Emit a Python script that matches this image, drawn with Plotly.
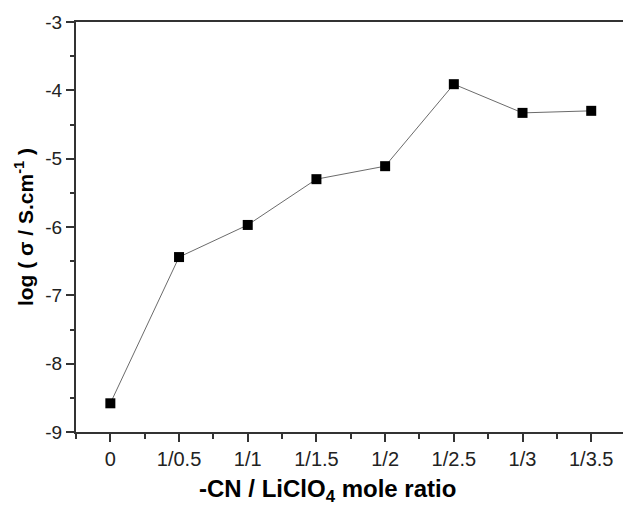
import plotly.graph_objects as go

categories = ["0", "1/0.5", "1/1", "1/1.5", "1/2", "1/2.5", "1/3", "1/3.5"]
log_sigma = [-8.58, -6.44, -5.97, -5.30, -5.11, -3.91, -4.33, -4.30]
x_pos = list(range(len(categories)))
y_ticks = [-9, -8, -7, -6, -5, -4, -3]
y_tick_labels = ["-9", "-8", "-7", "-6", "-5", "-4", "-3"]

fig = go.Figure()
fig.add_trace(go.Scatter(
    x=x_pos, y=log_sigma, mode="lines+markers",
    line=dict(color="#6b6b6b", width=1),
    marker=dict(symbol="square", size=10, color="black"),
    showlegend=False,
))

font_fam = "Liberation Sans, Arial, sans-serif"
# page body has an 8px default margin, so margins are offset to compensate
fig.update_layout(
    width=631, height=508,
    margin=dict(l=68, r=10, t=14, b=84),
    plot_bgcolor="white", paper_bgcolor="white",
    font=dict(family=font_fam, color="black"),
    annotations=[dict(
        text="<b>-CN / LiClO<sub>4</sub> mole ratio</b>",
        xref="paper", yref="paper", x=0.454, y=0, yshift=-58,
        xanchor="center", yanchor="middle", showarrow=False,
        font=dict(size=24, color="black"),
    )],
)
fig.update_xaxes(
    range=[-0.5, 7.55],
    tickvals=x_pos, ticktext=categories,
    ticks="outside", ticklen=8, tickwidth=1.5, tickcolor="#333",
    minor=dict(dtick=0.5, tick0=0.5, ticks="outside", ticklen=5, tickwidth=1.5, tickcolor="#333"),
    showline=True, linecolor="#333", linewidth=2, mirror=True,
    showgrid=False, zeroline=False, automargin=False,
    tickfont=dict(size=20, color="#222"),
)
fig.update_yaxes(
    range=[-9, -3],
    tickvals=y_ticks, ticktext=y_tick_labels,
    ticks="outside", ticklen=8, tickwidth=1.5, tickcolor="#333",
    minor=dict(dtick=0.5, tick0=-9, ticks="outside", ticklen=4, tickwidth=1.5, tickcolor="#333"),
    showline=True, linecolor="#333", linewidth=2, mirror=True,
    showgrid=False, zeroline=False, automargin=False,
    tickfont=dict(size=19, color="#222"),
    title=dict(text="<b>log ( σ / S.cm<sup>-1</sup> )</b>", font=dict(size=21), standoff=6),
)

fig.write_html("out.html")
